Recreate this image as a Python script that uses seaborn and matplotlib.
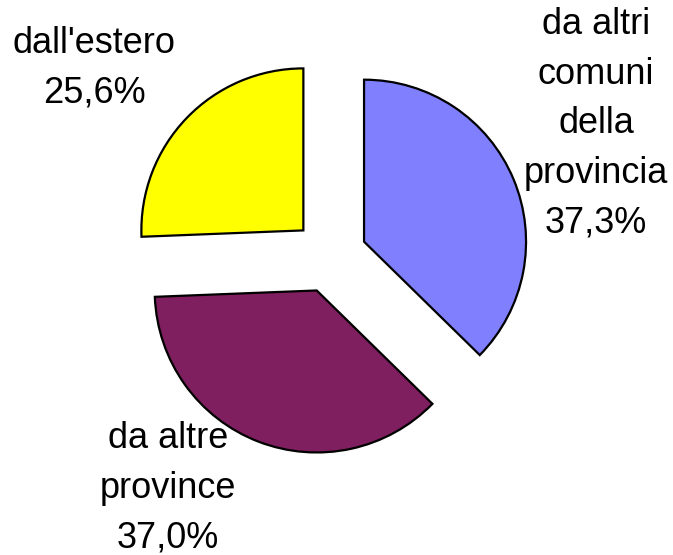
#-------------------------------------------------------------------------------------------
# Pie chart - provenienza degli iscritti
#-------------------------------------------------------------------------------------------

# Plotting.
import matplotlib
matplotlib.use("Agg")
import matplotlib.pyplot as plt

# Graphic manipulation.
import seaborn as sns

#---------------------------
# Data.
#---------------------------
labels = ["da altri\ncomuni\ndella\nprovincia", "da altre\nprovince", "dall'estero"]
values = [37.3, 37.0, 25.6]
pct_text = ["37,3%", "37,0%", "25,6%"]
colors = ["#8080FF", "#7F1F5F", "#FFFF00"]

#---------------------------
# Style.
#---------------------------
sns.set_style("white")
plt.rcParams['font.family'] = ['Liberation Sans', 'DejaVu Sans']

# Add figure size (673 x 555 px).
fig = plt.figure(figsize=(6.73, 5.55), dpi=100)
ax = fig.add_axes([0, 0, 1, 1])

# Pie centre at pixel (330, 256), radius 162 px.
R = 162
cx, cy = 330, 256

ax.pie(values, colors=colors, startangle=90, counterclock=False,
       explode=[0.228] * 3, radius=1, frame=True,
       wedgeprops=dict(edgecolor="black", linewidth=1.6))
ax.set_xlim(-cx / R, (673 - cx) / R)
ax.set_ylim(-(555 - cy) / R, cy / R)
ax.set_aspect("auto")
ax.axis("off")

# Labels with percentages.
label_pos = [(1.642, 0.815), (-1.0, -1.435), (-1.457, 1.16)]
for lab, pct, (x, y) in zip(labels, pct_text, label_pos):
    ax.text(x, y, lab + "\n" + pct, ha="center", va="center",
            fontsize=26, linespacing=1.54, color="black")

plt.savefig("out.png", dpi=100)
